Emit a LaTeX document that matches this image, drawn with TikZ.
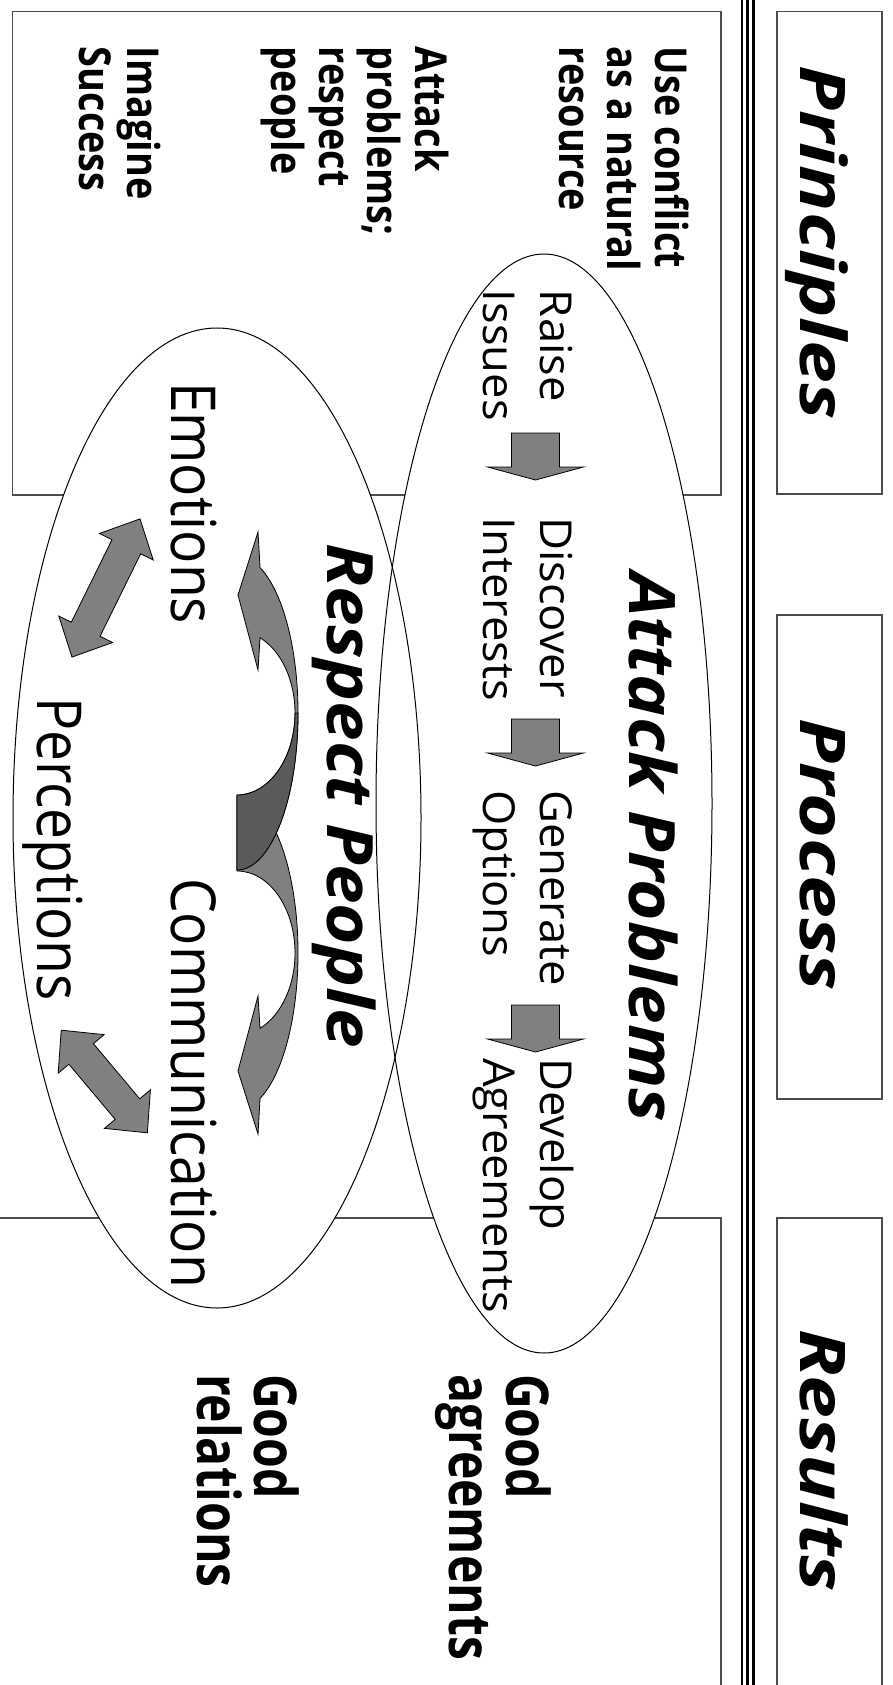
\documentclass[tikz,border=0pt]{standalone}
\usepackage{fontspec}
\usetikzlibrary{shapes.geometric}
\newfontfamily\osHead[FakeStretch=1.22]{Open Sans}
\newfontfamily\osBig[FakeStretch=1.11]{Open Sans}
\newfontfamily\osLeft[FakeStretch=0.86]{Open Sans}
\newfontfamily\osGood[FakeStretch=0.815]{Open Sans}
\newfontfamily\osStep[FakeStretch=1.03]{Open Sans}
\newfontfamily\osRP[FakeStretch=0.89]{Open Sans}
\definecolor{arrowgray}{HTML}{808080}
\definecolor{arrowdark}{HTML}{5A5A5A}
\definecolor{boxline}{HTML}{4D4D4D}
\begin{document}
\begin{tikzpicture}[x=1pt,y=-1pt,
  txt/.style={rotate=-90, anchor=base west, inner sep=0pt, outer sep=0pt},
  hdrtxt/.style={txt, font=\osHead\bfseries\itshape\fontsize{63}{70}\selectfont},
  bigtxt/.style={txt, font=\osBig\bfseries\itshape\fontsize{64}{70}\selectfont},
  lefttxt/.style={txt, font=\osLeft\bfseries\fontsize{44}{48}\selectfont},
  goodtxt/.style={txt, font=\osGood\bfseries\fontsize{59}{64}\selectfont},
  steptxt/.style={txt, font=\osStep\fontsize{44}{50}\selectfont},
  rptxt/.style={txt, font=\osRP\fontsize{62}{68}\selectfont},
  panel/.style={draw=boxline, line width=1.5pt, rectangle, inner sep=0pt, outer sep=0pt},
  oval/.style={ellipse, fill=white, inner sep=0pt, outer sep=0pt},
  blockarrow/.style={fill=arrowgray, draw=black, line width=0.8pt, line join=miter},
  curvelight/.style={fill=arrowgray, draw=black, line width=0.8pt},
  curvedark/.style={fill=arrowdark, draw=black, line width=0.8pt}
]
\useasboundingbox (0,0) rectangle (892,1685);
\clip (0,0) rectangle (892,1685);

% panels
\node[panel, minimum width=708.4pt, minimum height=483.3pt] (princbox) at (366.8,253.35) {};
\node[panel, minimum width=731pt, minimum height=502pt] (resbox) at (355.5,1469) {};
\node[panel, minimum width=105pt, minimum height=482.3pt] (hprinc) at (829.5,252.85) {};
\node[panel, minimum width=105pt, minimum height=484pt] (hproc) at (829.5,857) {};
\node[panel, minimum width=105pt, minimum height=502pt] (hres) at (829.5,1469) {};

% triple rule
\foreach \xx in {742,747.6,753.3}
  \draw[line width=2.6pt] (\xx,-5) -- (\xx,1690);

% ellipses
\node[oval, minimum width=336pt, minimum height=1099pt] (attackE) at (544,803.5) {};
\node[oval, minimum width=408pt, minimum height=980pt] (respE) at (217,818) {};
\draw[line width=1pt] (attackE.center) ellipse [x radius=168pt, y radius=549.5pt];
\draw[line width=1pt] (respE.center) ellipse [x radius=204pt, y radius=490pt];

% block arrows between steps
\foreach \t in {433,719,1005}
  \draw[blockarrow] (511.5,\t) -- (559.5,\t) -- (559.5,\t+34) -- (583.5,\t+34)
     -- (535.5,\t+47) -- (487.5,\t+34) -- (511.5,\t+34) -- cycle;

% curved arrows
\draw[curvelight] (258,1134) -- (260.05,1098.4)
   arc[start angle=-67.8, end angle=90, x radius=61pt, y radius=157pt]
   -- (237,871)
   arc[start angle=90, end angle=-66.6, x radius=58pt, y radius=82pt]
   -- (258,996) -- (238,1071) -- cycle;
\draw[curvelight] (258,532) -- (260.05,567.6)
   arc[start angle=67.8, end angle=-90, x radius=61pt, y radius=157pt]
   -- (237,795)
   arc[start angle=-90, end angle=66.6, x radius=58pt, y radius=82pt]
   -- (258,670) -- (238,595) -- cycle;
\draw[curvedark] (298,713)
   arc[start angle=0, end angle=-90, x radius=61pt, y radius=157pt]
   -- (237,795)
   arc[start angle=-90, end angle=0, x radius=58pt, y radius=82pt]
   -- cycle;

% double arrows
\begin{scope}[shift={(106,588)}, rotate=63.8]
  \draw[blockarrow] (77,0) -- (46,30) -- (46,16) -- (-46,16) -- (-46,30) -- (-77,0)
     -- (-46,-30) -- (-46,-16) -- (46,-16) -- (46,-30) -- cycle;
\end{scope}
\begin{scope}[shift={(104.3,1081.5)}, rotate=-50]
  \draw[blockarrow] (67,0) -- (36,30) -- (36,16) -- (-36,16) -- (-36,30) -- (-67,0)
     -- (-36,-30) -- (-36,-16) -- (36,-16) -- (36,-30) -- cycle;
\end{scope}

% headers
\node[hdrtxt] (tprinc) at (800,66) {Principles};
\node[hdrtxt] (tproc) at (800,718) {Process};
\node[hdrtxt] (tres) at (800,1329) {Results};

% principles text
\node[lefttxt] (p1) at (655,47) {Use conflict};
\node[lefttxt] (p2) at (607,47) {as a natural};
\node[lefttxt] (p3) at (559,47) {resource};
\node[lefttxt] (p4) at (415,47) {Attack};
\node[lefttxt] (p5) at (367,47) {problems;};
\node[lefttxt] (p6) at (319,47) {respect};
\node[lefttxt] (p7) at (271,47) {people};
\node[lefttxt] (p8) at (127,47) {Imagine};
\node[lefttxt] (p9) at (79,47) {Success};

% attack problems
\node[bigtxt] (tattack) at (629,572) {Attack Problems};
\node[steptxt] (s1a) at (540,290) {Raise};
\node[steptxt] (s1b) at (483,290) {Issues};
\node[steptxt] (s2a) at (540,517) {Discover};
\node[steptxt] (s2b) at (483,517) {Interests};
\node[steptxt] (s3a) at (540,790) {Generate};
\node[steptxt] (s3b) at (483,790) {Options};
\node[steptxt] (s4a) at (540,1058) {Develop};
\node[steptxt] (s4b) at (483,1058) {Agreements};

% respect people
\node[bigtxt] (trespect) at (327,543) {Respect People};
\node[rptxt] (emo) at (171,382) {Emotions};
\node[rptxt] (comm) at (171,878) {Communication};
\node[rptxt] (perc) at (37,697) {Perceptions};

% results
\node[goodtxt] (ga1) at (506,1374) {Good};
\node[goodtxt] (ga2) at (449,1374) {agreements};
\node[goodtxt] (gr1) at (254,1374) {Good};
\node[goodtxt] (gr2) at (197,1374) {relations};
\end{tikzpicture}
\end{document}
